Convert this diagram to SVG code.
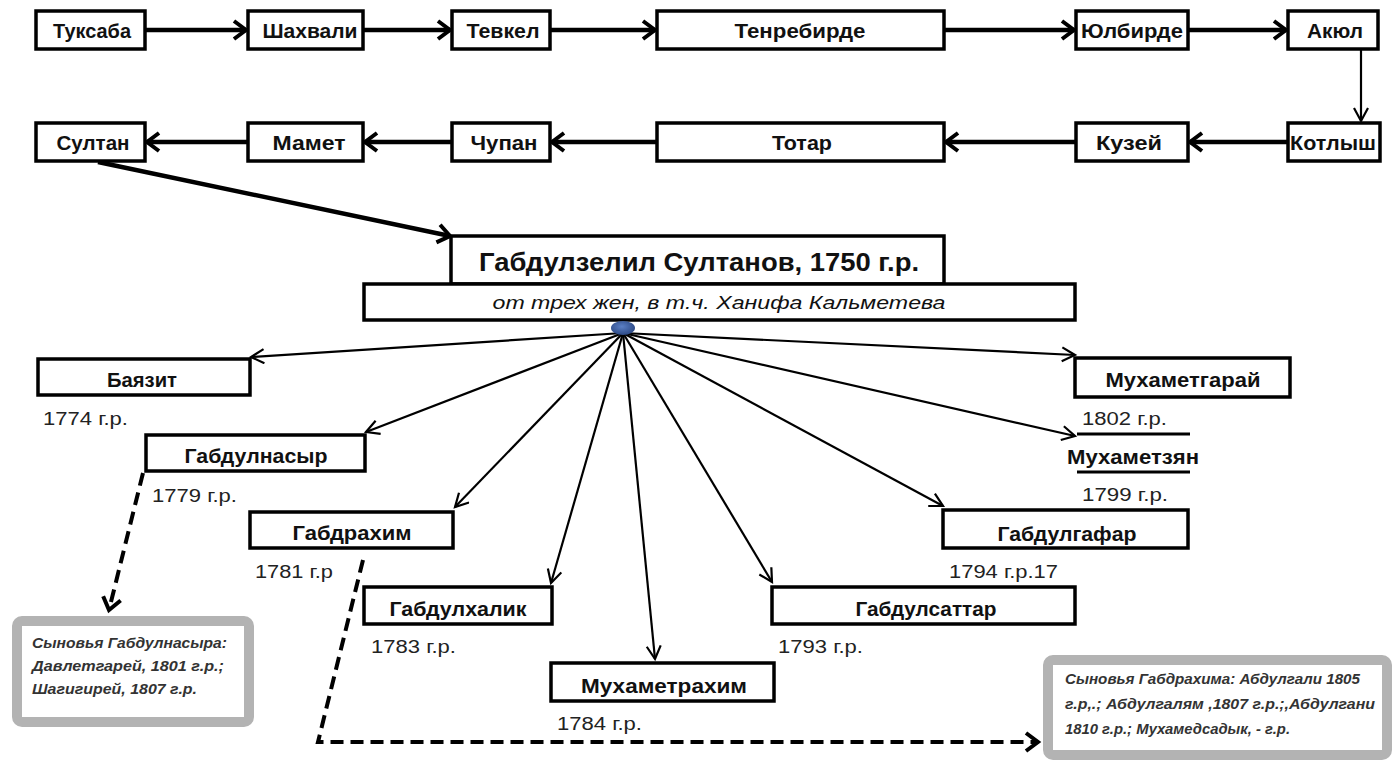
<svg xmlns="http://www.w3.org/2000/svg" width="1393" height="762" viewBox="0 0 1393 762">
<defs>
<style>
.box{fill:#fff;stroke:#000;stroke-width:3.5}
.nm{font-family:"Liberation Sans",Arial,sans-serif;font-weight:bold;font-size:21px;fill:#111;text-anchor:middle}
.yr{font-family:"Liberation Sans",Arial,sans-serif;font-size:18px;fill:#222}
.note{font-family:"Liberation Sans",Arial,sans-serif;font-style:italic;font-weight:bold;font-size:14px;fill:#333}
.gbox{fill:#fff;stroke:#b3b3b3;stroke-width:10}
.thick{stroke:#000;stroke-width:4.5;fill:none}
.thin{stroke:#000;stroke-width:2.2;fill:none}
.dash{stroke:#000;stroke-width:4;fill:none;stroke-dasharray:13 7}
</style>
<marker id="ah" markerUnits="userSpaceOnUse" markerWidth="24" markerHeight="24" refX="16" refY="11" orient="auto">
<path d="M4,2 L16,11 L4,20" fill="none" stroke="#000" stroke-width="4"/>
</marker>
<marker id="at" markerUnits="userSpaceOnUse" markerWidth="18" markerHeight="18" refX="14" refY="8" orient="auto">
<path d="M1,1 L14,8 L1,15" fill="none" stroke="#000" stroke-width="2.2"/>
</marker>
<radialGradient id="hubg" cx="0.45" cy="0.4" r="0.6">
<stop offset="0" stop-color="#5b7fc4"/>
<stop offset="1" stop-color="#2d4a86"/>
</radialGradient>
</defs>
<rect width="1393" height="762" fill="#fff"/>

<g id="connectors">
<line class="thick" x1="145" y1="30" x2="246" y2="30" marker-end="url(#ah)"/>
<line class="thick" x1="363" y1="30" x2="450" y2="30" marker-end="url(#ah)"/>
<line class="thick" x1="550" y1="30" x2="655" y2="30" marker-end="url(#ah)"/>
<line class="thick" x1="944" y1="30" x2="1074" y2="30" marker-end="url(#ah)"/>
<line class="thick" x1="1188" y1="30" x2="1286" y2="30" marker-end="url(#ah)"/>
<line class="thin" x1="1361" y1="49" x2="1361" y2="121" marker-end="url(#at)"/>
<line class="thick" x1="1288" y1="142" x2="1190" y2="142" marker-end="url(#ah)"/>
<line class="thick" x1="1076" y1="142" x2="946" y2="142" marker-end="url(#ah)"/>
<line class="thick" x1="657" y1="142" x2="552" y2="142" marker-end="url(#ah)"/>
<line class="thick" x1="452" y1="142" x2="365" y2="142" marker-end="url(#ah)"/>
<line class="thick" x1="248" y1="142" x2="147" y2="142" marker-end="url(#ah)"/>
<line class="thick" x1="98" y1="162" x2="450" y2="236" marker-end="url(#ah)"/>
<line class="thin" x1="623" y1="333" x2="251" y2="357" marker-end="url(#at)"/>
<line class="thin" x1="623" y1="333" x2="366" y2="432" marker-end="url(#at)"/>
<line class="thin" x1="623" y1="333" x2="455" y2="507" marker-end="url(#at)"/>
<line class="thin" x1="623" y1="333" x2="551" y2="583" marker-end="url(#at)"/>
<line class="thin" x1="623" y1="333" x2="655" y2="659" marker-end="url(#at)"/>
<line class="thin" x1="623" y1="333" x2="772" y2="582" marker-end="url(#at)"/>
<line class="thin" x1="623" y1="333" x2="943" y2="506" marker-end="url(#at)"/>
<line class="thin" x1="623" y1="333" x2="1075" y2="436" marker-end="url(#at)"/>
<line class="thin" x1="623" y1="333" x2="1075" y2="355" marker-end="url(#at)"/>
<path class="dash" d="M143,473 L109,610" marker-end="url(#ah)"/>
<path class="dash" d="M363,560 L318,742 L1038,742" marker-end="url(#ah)"/>
</g>

<g id="n-tuksaba"><rect class="box" x="36" y="11" width="109" height="38"/><text class="nm" x="92" y="38" textLength="78" lengthAdjust="spacingAndGlyphs">Туксаба</text></g>
<g id="n-shahvali"><rect class="box" x="248" y="11" width="115" height="38"/><text class="nm" x="310" y="38" textLength="95" lengthAdjust="spacingAndGlyphs">Шахвали</text></g>
<g id="n-tevkel"><rect class="box" x="452" y="11" width="98" height="38"/><text class="nm" x="503" y="38" textLength="73" lengthAdjust="spacingAndGlyphs">Тевкел</text></g>
<g id="n-tenrebirde"><rect class="box" x="657" y="11" width="287" height="38"/><text class="nm" x="800" y="38" textLength="131" lengthAdjust="spacingAndGlyphs">Тенребирде</text></g>
<g id="n-yulbirde"><rect class="box" x="1076" y="11" width="112" height="38"/><text class="nm" x="1132" y="38" textLength="102" lengthAdjust="spacingAndGlyphs">Юлбирде</text></g>
<g id="n-akyul"><rect class="box" x="1288" y="11" width="90" height="38"/><text class="nm" x="1335" y="38" textLength="56" lengthAdjust="spacingAndGlyphs">Акюл</text></g>

<g id="n-sultan"><rect class="box" x="36" y="123" width="109" height="38"/><text class="nm" x="93" y="150" textLength="73" lengthAdjust="spacingAndGlyphs">Султан</text></g>
<g id="n-mamet"><rect class="box" x="248" y="123" width="115" height="38"/><text class="nm" x="309" y="150" textLength="73" lengthAdjust="spacingAndGlyphs">Мамет</text></g>
<g id="n-chupan"><rect class="box" x="452" y="123" width="98" height="38"/><text class="nm" x="504" y="150" textLength="67" lengthAdjust="spacingAndGlyphs">Чупан</text></g>
<g id="n-totar"><rect class="box" x="657" y="123" width="287" height="38"/><text class="nm" x="802" y="150" textLength="60" lengthAdjust="spacingAndGlyphs">Тотар</text></g>
<g id="n-kuzei"><rect class="box" x="1076" y="123" width="112" height="38"/><text class="nm" x="1129" y="150" textLength="66" lengthAdjust="spacingAndGlyphs">Кузей</text></g>
<g id="n-kotlysh"><rect class="box" x="1288" y="123" width="92" height="38"/><text class="nm" x="1333" y="150" textLength="86" lengthAdjust="spacingAndGlyphs">Котлыш</text></g>

<g id="n-main">
<rect class="box" x="451" y="236" width="493" height="48"/>
<text class="nm" x="699" y="271" style="font-size:26px" textLength="440" lengthAdjust="spacingAndGlyphs">Габдулзелил Султанов, 1750 г.р.</text>
<rect class="box" x="364" y="284" width="711" height="36"/>
<text class="nm" x="719" y="309" style="font-size:19px;font-style:italic;font-weight:normal" textLength="453" lengthAdjust="spacingAndGlyphs">от трех жен, в т.ч. Ханифа Кальметева</text>
<ellipse cx="623" cy="328" rx="12" ry="7" fill="url(#hubg)"/>
</g>

<g id="n-bayazit"><rect class="box" x="38" y="359" width="212" height="36"/><text class="nm" x="142" y="387" textLength="70" lengthAdjust="spacingAndGlyphs">Баязит</text><text class="yr" x="43" y="425" textLength="85" lengthAdjust="spacingAndGlyphs">1774 г.р.</text></g>
<g id="n-gabdulnasyr"><rect class="box" x="146" y="435" width="219" height="36"/><text class="nm" x="256" y="463" textLength="143" lengthAdjust="spacingAndGlyphs">Габдулнасыр</text><text class="yr" x="152" y="502" textLength="85" lengthAdjust="spacingAndGlyphs">1779 г.р.</text></g>
<g id="n-gabdrahim"><rect class="box" x="250" y="512" width="203" height="36"/><text class="nm" x="352" y="540" textLength="119" lengthAdjust="spacingAndGlyphs">Габдрахим</text><text class="yr" x="255" y="578" textLength="78" lengthAdjust="spacingAndGlyphs">1781 г.р</text></g>
<g id="n-gabdulhalik"><rect class="box" x="364" y="587" width="188" height="37"/><text class="nm" x="458" y="616" textLength="137" lengthAdjust="spacingAndGlyphs">Габдулхалик</text><text class="yr" x="371" y="653" textLength="85" lengthAdjust="spacingAndGlyphs">1783 г.р.</text></g>
<g id="n-muhametrahim"><rect class="box" x="551" y="663" width="223" height="38"/><text class="nm" x="664" y="693" textLength="166" lengthAdjust="spacingAndGlyphs">Мухаметрахим</text><text class="yr" x="557" y="730" textLength="85" lengthAdjust="spacingAndGlyphs">1784 г.р.</text></g>
<g id="n-gabdulsattar"><rect class="box" x="772" y="587" width="303" height="37"/><text class="nm" x="926" y="616" textLength="141" lengthAdjust="spacingAndGlyphs">Габдулсаттар</text><text class="yr" x="778" y="653" textLength="85" lengthAdjust="spacingAndGlyphs">1793 г.р.</text></g>
<g id="n-gabdulgafar"><rect class="box" x="943" y="510" width="245" height="38"/><text class="nm" x="1067" y="541" textLength="139" lengthAdjust="spacingAndGlyphs">Габдулгафар</text><text class="yr" x="949" y="578" textLength="109" lengthAdjust="spacingAndGlyphs">1794 г.р.17</text></g>
<g id="n-muhametzyan"><line x1="1077" y1="434" x2="1190" y2="434" stroke="#000" stroke-width="3"/><text class="nm" x="1133" y="464" textLength="132" lengthAdjust="spacingAndGlyphs">Мухаметзян</text><line x1="1077" y1="472" x2="1190" y2="472" stroke="#000" stroke-width="3"/><text class="yr" x="1082" y="501" textLength="86" lengthAdjust="spacingAndGlyphs">1799 г.р.</text></g>
<g id="n-muhametgarai"><rect class="box" x="1075" y="358" width="215" height="39"/><text class="nm" x="1183" y="387" textLength="155" lengthAdjust="spacingAndGlyphs">Мухаметгарай</text><text class="yr" x="1082" y="425" textLength="85" lengthAdjust="spacingAndGlyphs">1802 г.р.</text></g>

<g id="n-sons-nasyr">
<rect class="gbox" x="17" y="621" width="232" height="101" rx="5"/>
<text class="note" x="32" y="648" textLength="195" lengthAdjust="spacingAndGlyphs">Сыновья Габдулнасыра:</text>
<text class="note" x="32" y="671" textLength="192" lengthAdjust="spacingAndGlyphs">Давлетгарей, 1801 г.р.;</text>
<text class="note" x="32" y="694" textLength="165" lengthAdjust="spacingAndGlyphs">Шагигирей, 1807 г.р.</text>
</g>
<g id="n-sons-rahim">
<rect class="gbox" x="1048" y="660" width="339" height="95" rx="5"/>
<text class="note" x="1065" y="684" style="font-size:15px" textLength="295" lengthAdjust="spacingAndGlyphs">Сыновья Габдрахима: Абдулгали 1805</text>
<text class="note" x="1065" y="709" style="font-size:15px" textLength="310" lengthAdjust="spacingAndGlyphs">г.р,.; Абдулгалям ,1807 г.р.;,Абдулгани</text>
<text class="note" x="1065" y="734" style="font-size:15px" textLength="225" lengthAdjust="spacingAndGlyphs">1810 г.р.; Мухамедсадык, - г.р.</text>
</g>
</svg>
